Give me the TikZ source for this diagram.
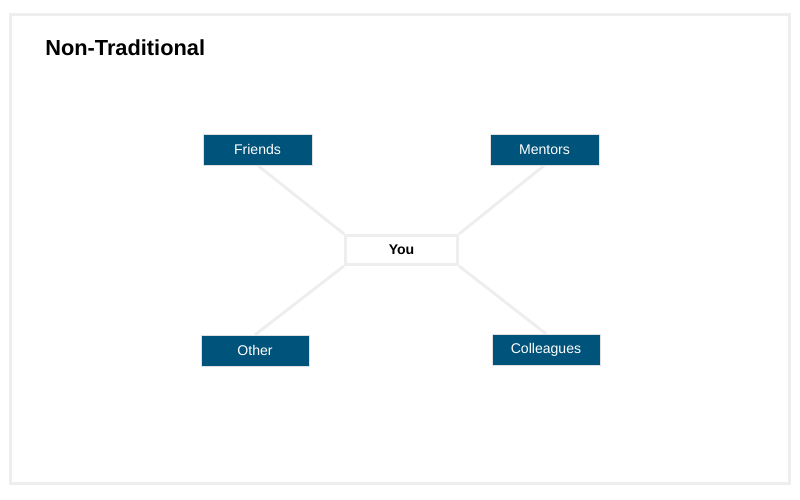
\documentclass[tikz,border=0pt]{standalone}
\usepackage{fontspec}
\setmainfont{Liberation Sans}
\usetikzlibrary{positioning, backgrounds}
\definecolor{NetBlue}{RGB}{0,83,122}
\definecolor{NetGray}{RGB}{238,238,238}

\begin{document}
\begin{tikzpicture}[
            peer/.style={rectangle, fill=NetBlue, draw=black!12, line width=0.4pt,
                         text=white, minimum width=2.7cm, minimum height=0.77cm,
                         font=\fontsize{10}{12}\selectfont, align=center},
            self/.style={rectangle, fill=white, draw=NetGray, line width=0.075cm,
                         minimum width=2.8cm, minimum height=0.725cm,
                         font=\fontsize{10}{12}\selectfont\bfseries, align=center},
            tie/.style={draw=NetGray, line width=0.075cm}
          ]
          \useasboundingbox (0,0) rectangle (20,12.5);
          % Frame
          \draw[NetGray, line width=0.075cm] (0.275,0.4) rectangle (19.725,12.125);

          % Title
          \node[anchor=base west, inner sep=0pt, font=\fontsize{15.5}{18}\selectfont\bfseries]
                (title) at (1.125,11.12) {Non-Traditional};

          % Centre
          \node[self] (you) at (10.0375,6.25) {You};

          % Network
          \node[peer, minimum width=2.725cm] (friends) at (6.4375,8.7625) {Friends};
          \node[peer, minimum width=2.725cm] (mentors) at (13.6125,8.7625) {Mentors};
          \node[peer] (other) at (6.375,3.7375) {Other};
          \node[peer] (colleagues) at (13.65,3.7625) {Colleagues};

          % Ties
          \begin{scope}[on background layer]
            \draw[tie] (friends.south) -- (you.north west);
            \draw[tie] (mentors.south) -- (you.north east);
            \draw[tie] (other.north) -- (you.south west);
            \draw[tie] (colleagues.north) -- (you.south east);
          \end{scope}
        \end{tikzpicture}
\end{document}
